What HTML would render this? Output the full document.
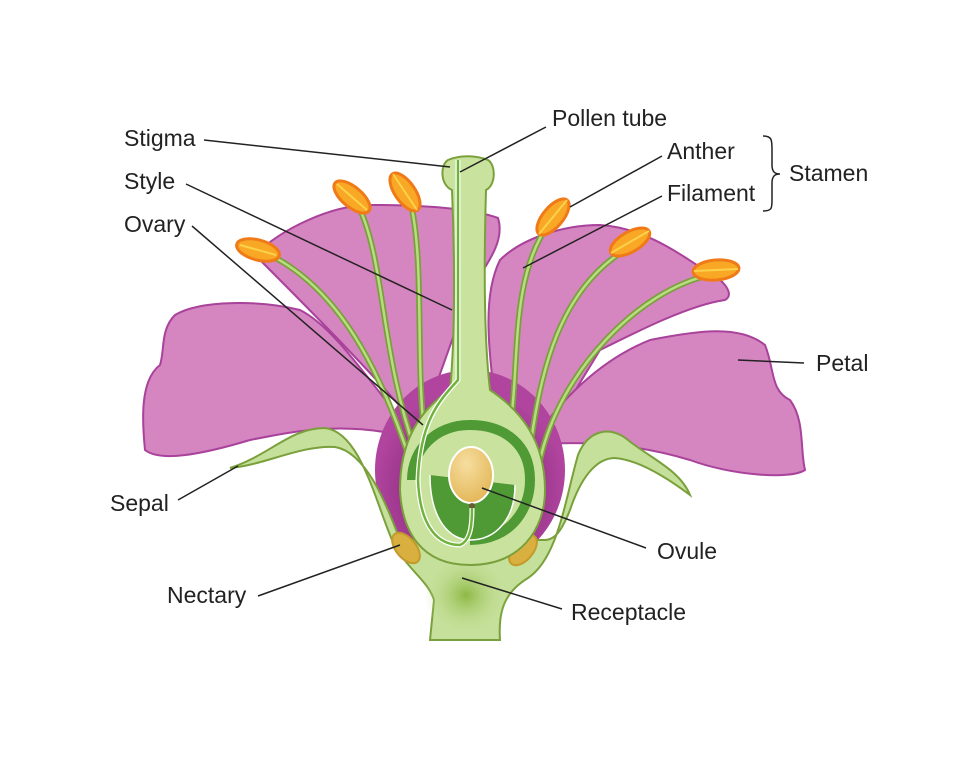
<!DOCTYPE html>
<html><head><style>
html,body{margin:0;padding:0;background:#fff;}
svg text{font-family:"Liberation Sans",sans-serif;font-size:23px;fill:#222;}
</style></head><body>
<svg width="975" height="754" viewBox="0 0 975 754" xmlns="http://www.w3.org/2000/svg">
<defs>
<radialGradient id="dark" cx="0.5" cy="0.6" r="0.5">
<stop offset="0" stop-color="#6a1460"/><stop offset="1" stop-color="#b0449e"/>
</radialGradient>
<radialGradient id="ov" cx="0.4" cy="0.3" r="0.7"><stop offset="0" stop-color="#f6dea0"/><stop offset="1" stop-color="#e4b85a"/></radialGradient>
<radialGradient id="rec" cx="0.5" cy="0.5" r="0.5"><stop offset="0" stop-color="#8db843"/><stop offset="1" stop-color="#c5e09a" stop-opacity="0"/></radialGradient>
</defs>
<g stroke="#a8429a" stroke-width="2" fill="#d585c0">
<path d="M255 255 C280 230 330 205 370 205 C420 205 470 208 498 218 C505 240 490 260 470 290 L420 430 C380 380 300 300 255 255 Z"/>
<path d="M500 440 C490 360 480 300 500 260 C520 240 560 225 600 225 C650 228 690 262 705 270 C725 280 735 295 725 300 C690 305 640 330 600 350 L545 440 Z"/>
<path d="M420 440 C380 400 340 330 300 310 C260 300 200 300 175 315 C160 330 165 350 160 365 C140 380 142 420 145 450 C160 462 200 455 250 440 C300 430 350 420 420 440 Z"/>
<path d="M530 445 C560 400 600 360 650 340 C700 330 740 325 765 345 C775 370 770 390 790 400 C805 420 800 450 805 470 C790 480 730 475 690 460 C640 445 590 440 530 445 Z"/>
</g>
<ellipse cx="470" cy="470" rx="95" ry="100" fill="url(#dark)"/>
<path d="M230 468 C270 455 290 428 325 428 C360 432 375 500 392 540 C405 568 428 580 434 600 L430 640 L500 640 C498 610 505 592 528 578 C558 558 565 500 578 455 C588 430 610 425 628 440 C650 458 680 470 690 495 C670 480 640 460 615 458 C595 458 580 480 570 510 C562 530 555 540 545 540 L400 540 C385 500 365 452 335 447 C300 445 265 465 230 468 Z" fill="#c5e09a" stroke="#7aa03c" stroke-width="2"/>
<ellipse cx="466" cy="595" rx="42" ry="40" fill="url(#rec)"/>
<ellipse cx="406" cy="548" rx="10" ry="18" transform="rotate(-40 406 548)" fill="#d9b040" stroke="#c49a2a" stroke-width="2"/>
<ellipse cx="523" cy="550" rx="10" ry="18" transform="rotate(40 523 550)" fill="#d9b040" stroke="#c49a2a" stroke-width="2"/>
<g fill="none" stroke="#7aa03c" stroke-width="6" stroke-linecap="round">
<path d="M270 255 C340 290 380 370 410 460"/>
<path d="M358 205 C385 260 380 350 415 450"/>
<path d="M410 200 C425 260 415 360 425 440"/>
<path d="M548 225 C510 280 520 360 510 430"/>
<path d="M625 250 C560 290 540 370 530 450"/>
<path d="M710 275 C640 290 560 370 540 460"/>
</g>
<g fill="none" stroke="#b8dc80" stroke-width="2.5" stroke-linecap="round">
<path d="M270 255 C340 290 380 370 410 460"/>
<path d="M358 205 C385 260 380 350 415 450"/>
<path d="M410 200 C425 260 415 360 425 440"/>
<path d="M548 225 C510 280 520 360 510 430"/>
<path d="M625 250 C560 290 540 370 530 450"/>
<path d="M710 275 C640 290 560 370 540 460"/>
</g>
<path d="M448 160 C440 165 440 185 452 190 C455 260 455 340 450 390 C420 410 400 440 400 490 C402 530 420 565 470 565 C520 565 545 530 545 490 C545 440 520 410 490 390 C484 340 484 260 486 190 C496 185 496 165 488 160 C475 155 460 155 448 160 Z" fill="#c9e39f" stroke="#7aa03c" stroke-width="2"/>
<path d="M470 540 C510 540 530 510 530 480 C530 445 505 425 470 425 C435 425 412 450 412 480" fill="none" stroke="#4f9a34" stroke-width="10"/>
<path d="M430 475 C430 520 450 540 470 540 C495 540 515 520 515 485" fill="#4f9a34" stroke="#fff" stroke-width="1.5"/>
<ellipse cx="471" cy="475" rx="22" ry="28" fill="url(#ov)" stroke="#fff" stroke-width="2"/>
<circle cx="472" cy="506" r="3" fill="#6a5a3a"/>
<path d="M458 160 L458 380 C440 400 420 420 418 480 C420 530 440 545 460 545 C472 540 472 520 472 508" fill="none" stroke="#fff" stroke-width="5"/>
<path d="M458 160 L458 380 C440 400 420 420 418 480 C420 530 440 545 460 545 C472 540 472 520 472 508" fill="none" stroke="#6fb33c" stroke-width="2.5"/>
<g stroke="#f07a18" stroke-width="3" fill="#f9a826">
<ellipse cx="258" cy="250" rx="22" ry="10" transform="rotate(15 258 250)"/>
<ellipse cx="352" cy="197" rx="22" ry="10" transform="rotate(40 352 197)"/>
<ellipse cx="405" cy="192" rx="22" ry="10" transform="rotate(55 405 192)"/>
<ellipse cx="553" cy="217" rx="22" ry="10" transform="rotate(-50 553 217)"/>
<ellipse cx="630" cy="242" rx="22" ry="10" transform="rotate(-30 630 242)"/>
<ellipse cx="716" cy="270" rx="23" ry="10" transform="rotate(-5 716 270)"/>
</g>
<g stroke="#fbd24a" stroke-width="2" fill="none">
<line x1="240" y1="245" x2="276" y2="255"/>
<line x1="337" y1="184" x2="367" y2="210"/>
<line x1="393" y1="174" x2="417" y2="210"/>
<line x1="539" y1="234" x2="567" y2="200"/>
<line x1="611" y1="253" x2="649" y2="231"/>
<line x1="694" y1="271" x2="738" y2="269"/>
</g>
<g stroke="#222" stroke-width="1.5" fill="none">
<line x1="204" y1="140" x2="450" y2="167"/>
<line x1="186" y1="184" x2="452" y2="310"/>
<line x1="192" y1="226" x2="423" y2="425"/>
<line x1="546" y1="127" x2="460" y2="172"/>
<line x1="662" y1="156" x2="570" y2="207"/>
<line x1="662" y1="196" x2="523" y2="268"/>
<line x1="738" y1="360" x2="804" y2="363"/>
<line x1="178" y1="500" x2="238" y2="466"/>
<line x1="258" y1="596" x2="400" y2="545"/>
<line x1="482" y1="488" x2="646" y2="548"/>
<line x1="462" y1="578" x2="562" y2="609"/>
<path d="M763 136 C772 136 772 140 772 150 L772 165 C772 172 775 174 780 174 C775 174 772 176 772 183 L772 200 C772 208 772 211 763 211"/>
</g>
<text x="124" y="146">Stigma</text>
<text x="124" y="189">Style</text>
<text x="124" y="232">Ovary</text>
<text x="552" y="126">Pollen tube</text>
<text x="667" y="159">Anther</text>
<text x="667" y="201">Filament</text>
<text x="789" y="181">Stamen</text>
<text x="816" y="371">Petal</text>
<text x="110" y="511">Sepal</text>
<text x="167" y="603">Nectary</text>
<text x="657" y="559">Ovule</text>
<text x="571" y="620">Receptacle</text>
</svg>
</body></html>
